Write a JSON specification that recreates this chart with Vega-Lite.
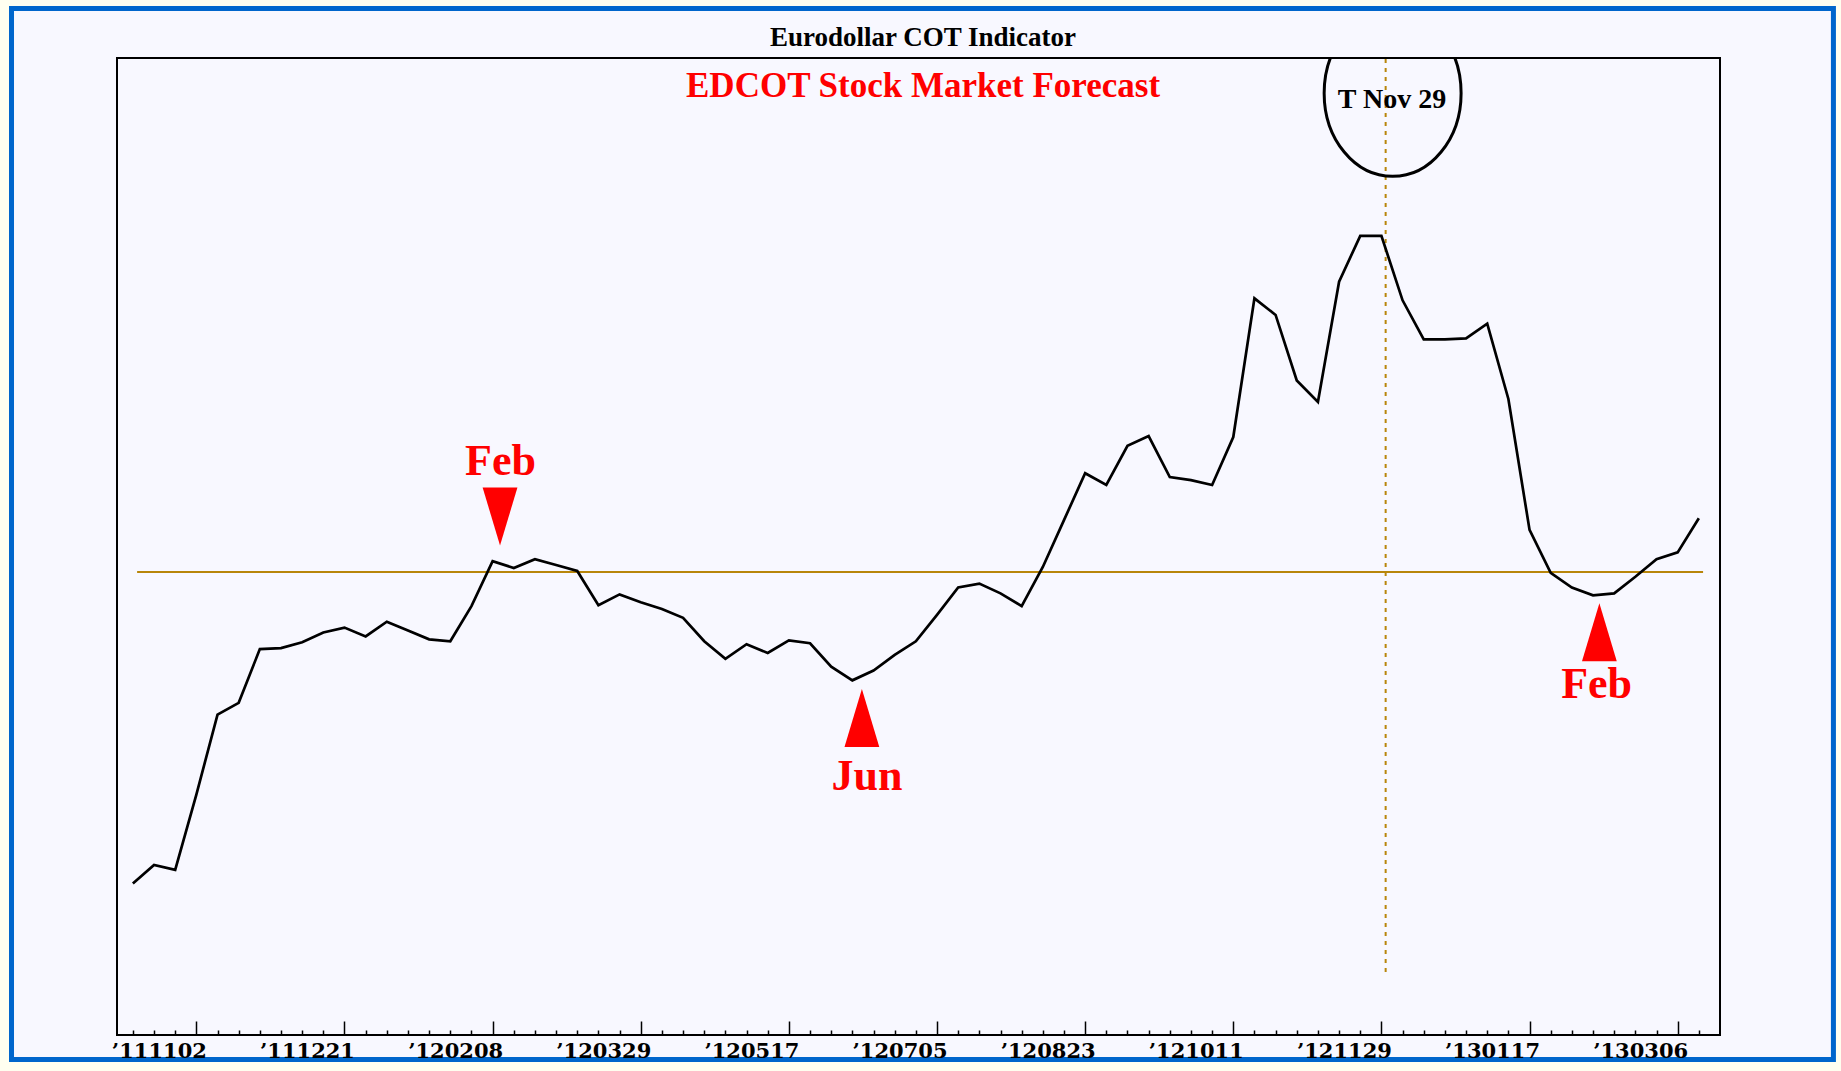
{
  "$schema": "https://vega.github.io/schema/vega-lite/v6.json",
  "autosize": {"type": "none"},
  "width": 1603,
  "height": 977,
  "padding": {"left": 117, "top": 58, "right": 121, "bottom": 36},
  "background": "#fffff0",
  "config": {"view": {"stroke": null}},
  "encoding": {
    "x": {"field": "week", "type": "quantitative",
      "scale": {"domain": [-0.75, 75], "nice": false, "zero": false},
      "axis": {
        "title": null, "grid": false, "domain": false, "zindex": 1,
        "values": [0,1,2,3,4,5,6,7,8,9,10,11,12,13,14,15,16,17,18,19,20,21,22,23,24,25,26,27,28,29,30,31,32,33,34,35,36,37,38,39,40,41,42,43,44,45,46,47,48,49,50,51,52,53,54,55,56,57,58,59,60,61,62,63,64,65,66,67,68,69,70,71,72,73,74],
        "tickColor": "#000000", "tickWidth": 1.5,
        "tickSize": {"condition": {"test": "datum.value % 7 == 3", "value": -14}, "value": -5},
        "labelExpr": "datum.value % 7 == 3 ? '’' + ['111102','111221','120208','120329','120517','120705','120823','121011','121129','130117','130306'][(datum.value - 3) / 7] : ''",
        "labelFont": "DejaVu Serif", "labelFontWeight": "bold", "labelFontSize": 21, "labelColor": "#000000",
        "labelAlign": "right", "labelOffset": 10, "labelBaseline": "alphabetic", "labelPadding": 36,
        "labelOverlap": false, "labelBound": false, "labelFlush": false
      }
    },
    "y": {"field": "value", "type": "quantitative", "scale": {"domain": [0, 100], "nice": false, "zero": false}, "axis": null}
  },
  "layer": [
    {
      "data": {"values": [{"part": "outer frame", "week": -5.735, "week_end": 80.36, "value": 105.07, "value_end": -2.51}]},
      "mark": {"type": "rect", "fill": "#f8f8ff", "stroke": "#0066cc", "strokeWidth": 5},
      "encoding": {"x2": {"field": "week_end"}, "y2": {"field": "value_end"}}
    },
    {
      "data": {"values": [{"part": "plot frame", "week": -0.75, "week_end": 75, "value": 100, "value_end": 0}]},
      "mark": {"type": "rect", "fill": "#f8f8ff", "stroke": "#000000", "strokeWidth": 2},
      "encoding": {"x2": {"field": "week_end"}, "y2": {"field": "value_end"}}
    },
    {
      "data": {"values": [{"week": 0.2, "week_end": 74.2, "value": 47.4}]},
      "mark": {"type": "rule", "color": "#b8860b", "strokeWidth": 2},
      "encoding": {"x2": {"field": "week_end"}}
    },
    {
      "data": {"values": [{"week": 59.2, "value": 6.45, "value_end": 100}]},
      "mark": {"type": "rule", "color": "#b8860b", "strokeWidth": 2, "strokeDash": [4, 5]},
      "encoding": {"y2": {"field": "value_end"}}
    },
    {
      "data": {"values": [
        {"week": 0, "value": 15.5}, {"week": 1, "value": 17.4}, {"week": 2, "value": 16.9}, {"week": 3, "value": 24.6},
        {"week": 4, "value": 32.8}, {"week": 5, "value": 34.0}, {"week": 6, "value": 39.5}, {"week": 7, "value": 39.6},
        {"week": 8, "value": 40.2}, {"week": 9, "value": 41.2}, {"week": 10, "value": 41.7}, {"week": 11, "value": 40.8},
        {"week": 12, "value": 42.3}, {"week": 13, "value": 41.4}, {"week": 14, "value": 40.5}, {"week": 15, "value": 40.3},
        {"week": 16, "value": 43.9}, {"week": 17, "value": 48.5}, {"week": 18, "value": 47.8}, {"week": 19, "value": 48.7},
        {"week": 20, "value": 48.1}, {"week": 21, "value": 47.5}, {"week": 22, "value": 44.0}, {"week": 23, "value": 45.1},
        {"week": 24, "value": 44.3}, {"week": 25, "value": 43.6}, {"week": 26, "value": 42.7}, {"week": 27, "value": 40.3},
        {"week": 28, "value": 38.5}, {"week": 29, "value": 40.0}, {"week": 30, "value": 39.1}, {"week": 31, "value": 40.4},
        {"week": 32, "value": 40.1}, {"week": 33, "value": 37.7}, {"week": 34, "value": 36.3}, {"week": 35, "value": 37.3},
        {"week": 36, "value": 38.9}, {"week": 37, "value": 40.3}, {"week": 38, "value": 43.0}, {"week": 39, "value": 45.8},
        {"week": 40, "value": 46.2}, {"week": 41, "value": 45.2}, {"week": 42, "value": 43.9}, {"week": 43, "value": 47.9},
        {"week": 44, "value": 52.7}, {"week": 45, "value": 57.5}, {"week": 46, "value": 56.3}, {"week": 47, "value": 60.3},
        {"week": 48, "value": 61.3}, {"week": 49, "value": 57.1}, {"week": 50, "value": 56.8}, {"week": 51, "value": 56.3},
        {"week": 52, "value": 61.2}, {"week": 53, "value": 75.4}, {"week": 54, "value": 73.7}, {"week": 55, "value": 67.0},
        {"week": 56, "value": 64.8}, {"week": 57, "value": 77.1}, {"week": 58, "value": 81.8}, {"week": 59, "value": 81.8},
        {"week": 60, "value": 75.2}, {"week": 61, "value": 71.2}, {"week": 62, "value": 71.2}, {"week": 63, "value": 71.3},
        {"week": 64, "value": 72.8}, {"week": 65, "value": 65.1}, {"week": 66, "value": 51.7}, {"week": 67, "value": 47.3},
        {"week": 68, "value": 45.8}, {"week": 69, "value": 45.0}, {"week": 70, "value": 45.2}, {"week": 71, "value": 46.9},
        {"week": 72, "value": 48.7}, {"week": 73, "value": 49.4}, {"week": 74, "value": 52.9}
      ]},
      "mark": {"type": "line", "color": "#000000", "strokeWidth": 2.7}
    },
    {
      "data": {"values": [
        {"week": 17.35, "value": 53.07, "dir": "down"},
        {"week": 34.45, "value": 32.45, "dir": "up"},
        {"week": 69.3, "value": 41.22, "dir": "up"}
      ]},
      "mark": {"type": "point", "filled": true, "color": "#ff0000", "opacity": 1, "size": 3364},
      "encoding": {
        "shape": {"field": "dir", "type": "nominal", "legend": null,
          "scale": {"domain": ["down", "up"], "range": ["M -0.6 -1 L 0.6 -1 L 0 1 Z", "M 0 -1 L 0.6 1 L -0.6 1 Z"]}}
      }
    },
    {
      "data": {"values": [
        {"week": 17.37, "value": 57.32, "month": "Feb"},
        {"week": 34.69, "value": 25.08, "month": "Jun"},
        {"week": 69.17, "value": 34.49, "month": "Feb"}
      ]},
      "mark": {"type": "text", "font": "Liberation Serif", "fontSize": 44, "fontWeight": "bold", "color": "#ff0000", "align": "center", "baseline": "alphabetic"},
      "encoding": {"text": {"field": "month"}}
    },
    {
      "data": {"values": [{"label": "Eurodollar COT Indicator", "week": 37.34, "value": 101.23}]},
      "mark": {"type": "text", "font": "Liberation Serif", "fontSize": 27, "fontWeight": "bold", "color": "#000000", "align": "center", "baseline": "alphabetic"},
      "encoding": {"text": {"field": "label"}}
    },
    {
      "data": {"values": [{"label": "EDCOT Stock Market Forecast", "week": 37.34, "value": 96.0}]},
      "mark": {"type": "text", "font": "Liberation Serif", "fontSize": 35, "fontWeight": "bold", "color": "#ff0000", "align": "center", "baseline": "alphabetic"},
      "encoding": {"text": {"field": "label"}}
    },
    {
      "data": {"values": [{"label": "T Nov 29", "week": 59.5, "value": 94.9}]},
      "mark": {"type": "text", "font": "Liberation Serif", "fontSize": 28, "fontWeight": "bold", "color": "#000000", "align": "center", "baseline": "alphabetic"},
      "encoding": {"text": {"field": "label"}}
    },
    {
      "data": {"values": [{"week": 59.53, "value": 96.4}]},
      "mark": {"type": "point", "filled": false, "clip": true, "color": "#000000", "opacity": 1, "strokeWidth": 3, "size": 27689,
        "shape": "M -0.823 0 A 0.823 1 0 1 1 0.823 0 A 0.823 1 0 1 1 -0.823 0 Z"}
    }
  ]
}
